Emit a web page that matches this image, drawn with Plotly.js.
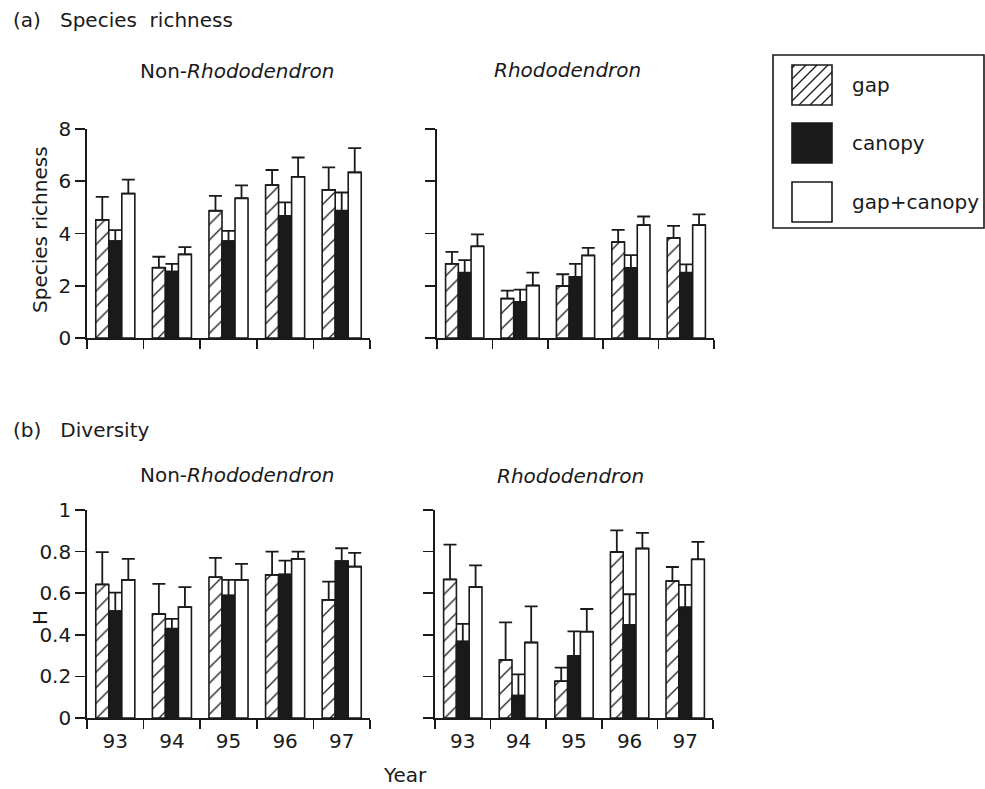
<!DOCTYPE html>
<html><head><meta charset="utf-8">
<script src="https://cdn.plot.ly/plotly-3.0.1.min.js"></script>
<style>html,body{margin:0;padding:0;background:#fff}#plot{width:985px;height:789px}</style>
</head><body><div id="plot"></div>
<script>
// ---------- data ----------
const years = ['93','94','95','96','97'];
const seriesNames = ['gap','canopy','gap+canopy'];

// (a) species richness, Non-Rhododendron
const richNonGap   = [4.52, 2.69, 4.87, 5.85, 5.67];
const richNonGapSE = [0.88, 0.42, 0.57, 0.58, 0.86];
const richNonCan   = [3.71, 2.54, 3.71, 4.67, 4.87];
const richNonCanSE = [0.42, 0.30, 0.39, 0.52, 0.70];
const richNonGC    = [5.53, 3.20, 5.35, 6.17, 6.34];
const richNonGCSE  = [0.53, 0.28, 0.49, 0.74, 0.93];
// (a) species richness, Rhododendron
const richRhoGap   = [2.84, 1.51, 1.99, 3.67, 3.83];
const richRhoGapSE = [0.46, 0.30, 0.45, 0.47, 0.46];
const richRhoCan   = [2.50, 1.38, 2.34, 2.68, 2.50];
const richRhoCanSE = [0.48, 0.47, 0.50, 0.49, 0.32];
const richRhoGC    = [3.51, 2.01, 3.16, 4.32, 4.32];
const richRhoGCSE  = [0.46, 0.49, 0.29, 0.33, 0.41];
// (b) diversity, Non-Rhododendron
const divNonGap   = [0.642, 0.500, 0.677, 0.688, 0.568];
const divNonGapSE = [0.155, 0.145, 0.093, 0.112, 0.088];
const divNonCan   = [0.514, 0.429, 0.589, 0.690, 0.754];
const divNonCanSE = [0.089, 0.048, 0.075, 0.067, 0.062];
const divNonGC    = [0.664, 0.533, 0.664, 0.765, 0.728];
const divNonGCSE  = [0.101, 0.096, 0.077, 0.035, 0.066];
// (b) diversity, Rhododendron
const divRhoGap   = [0.666, 0.279, 0.177, 0.798, 0.658];
const divRhoGapSE = [0.168, 0.181, 0.065, 0.104, 0.068];
const divRhoCan   = [0.368, 0.108, 0.298, 0.447, 0.532];
const divRhoCanSE = [0.085, 0.102, 0.118, 0.148, 0.108];
const divRhoGC    = [0.629, 0.363, 0.415, 0.815, 0.763];
const divRhoGCSE  = [0.105, 0.174, 0.109, 0.075, 0.084];

const richTicks = [0, 2, 4, 6, 8];
const divTicks = [0, 0.2, 0.4, 0.6, 0.8, 1];
const divTickText = ['0', '0.2', '0.4', '0.6', '0.8', '1'];

// ---------- helpers ----------
const W = 985, H = 789;
const px = x => x / W;
const py = y => 1 - y / H;
const FONT = 'DejaVu Sans, Verdana, sans-serif';
const INK = '#1a1a1a';

const styles = [
  {color: 'white', pattern: {shape: '/', fgcolor: INK, bgcolor: 'white', size: 11, solidity: 0.12}},
  {color: INK},
  {color: 'white'}
];

function bars(xa, ya, vals, ses) {
  return vals.map((v, i) => ({
    type: 'bar', x: years, y: v, name: seriesNames[i], xaxis: xa, yaxis: ya,
    showlegend: false,
    marker: Object.assign({line: {color: INK, width: 1.6}}, styles[i]),
    error_y: {type: 'data', symmetric: false, array: ses[i], arrayminus: ses[i].map(() => 0),
              color: INK, thickness: 1.8, width: 6.5}
  }));
}

const data = [].concat(
  bars('x', 'y', [richNonGap, richNonCan, richNonGC], [richNonGapSE, richNonCanSE, richNonGCSE]),
  bars('x2', 'y2', [richRhoGap, richRhoCan, richRhoGC], [richRhoGapSE, richRhoCanSE, richRhoGCSE]),
  bars('x3', 'y3', [divNonGap, divNonCan, divNonGC], [divNonGapSE, divNonCanSE, divNonGCSE]),
  bars('x4', 'y4', [divRhoGap, divRhoCan, divRhoGC], [divRhoGapSE, divRhoCanSE, divRhoGCSE])
);

function xax(x0, x1, anchor, labels) {
  return {domain: [px(x0), px(x1)], anchor: anchor, type: 'category',
    tickson: 'boundaries', ticks: 'outside', ticklen: 9, tickwidth: 1.6, tickcolor: INK,
    showline: true, linecolor: INK, linewidth: 1.8, showgrid: false, zeroline: false,
    showticklabels: labels, ticklabelstandoff: 4,
    tickfont: {family: FONT, size: 20, color: INK}, fixedrange: true};
}
function yax(y0, y1, anchor, range, tv, tt, labels) {
  return {domain: [py(y0), py(y1)], anchor: anchor, range: range,
    tickmode: 'array', tickvals: tv, ticktext: tt,
    ticks: 'outside', ticklen: 10, tickwidth: 1.6, tickcolor: INK,
    showline: true, linecolor: INK, linewidth: 1.8, showgrid: false, zeroline: false,
    showticklabels: labels, tickfont: {family: FONT, size: 20, color: INK}, fixedrange: true};
}

const richTT = richTicks.map(String);

const annFont = (s) => ({family: FONT, size: s, color: INK});
const annotations = [
  {text: '(a)   Species  richness', x: px(11), y: py(20), xanchor: 'left'},
  {text: 'Non-<i>Rhododendron</i>', x: px(237), y: py(71), xanchor: 'center'},
  {text: '<i>Rhododendron</i>', x: px(567), y: py(70), xanchor: 'center'},
  {text: '(b)   Diversity', x: px(11), y: py(430), xanchor: 'left'},
  {text: 'Non-<i>Rhododendron</i>', x: px(237), y: py(475), xanchor: 'center'},
  {text: '<i>Rhododendron</i>', x: px(570), y: py(476), xanchor: 'center'},
  {text: 'Year', x: px(405), y: py(775), xanchor: 'center'},
  {text: 'Species richness', x: px(40), y: py(230), xanchor: 'center', textangle: -90},
  {text: 'H', x: px(40), y: py(618), xanchor: 'center', textangle: -90}
].map(a => ({text: a.text, x: a.x, y: a.y, xref: 'paper', yref: 'paper', xanchor: a.xanchor,
  yanchor: 'middle', showarrow: false, textangle: a.textangle || 0, font: annFont(a.size || 20)}));

// ---------- legend (drawn) ----------
const shapes = [];
const lgBox = {x0: 773, y0: 55, x1: 984, y1: 228};
shapes.push({type: 'rect', xref: 'paper', yref: 'paper', x0: px(lgBox.x0), x1: px(lgBox.x1),
  y0: py(lgBox.y1), y1: py(lgBox.y0), line: {color: INK, width: 1.6}, fillcolor: 'white', layer: 'below'});
const sw = {x: 792, size: 40, ys: [65, 123, 182]};
seriesNames.forEach((nm, i) => {
  const y0 = sw.ys[i];
  shapes.push({type: 'rect', xref: 'paper', yref: 'paper', x0: px(sw.x), x1: px(sw.x + sw.size),
    y0: py(y0 + sw.size), y1: py(y0), line: {color: INK, width: 1.6},
    fillcolor: i === 1 ? INK : 'white'});
  if (i === 0) {
    const s = sw.size, step = 11;
    for (let d = step; d < 2 * s; d += step) {
      let ax = Math.max(0, d - s), ay = d - ax;
      let bx = Math.min(s, d), by = d - bx;
      shapes.push({type: 'line', xref: 'paper', yref: 'paper',
        x0: px(sw.x + (s - ay)), y0: py(y0 + s - ax),
        x1: px(sw.x + (s - by)), y1: py(y0 + s - bx),
        line: {color: INK, width: 1.2}});
    }
  }
  annotations.push({text: nm, xref: 'paper', yref: 'paper', x: px(850), y: py(y0 + sw.size / 2),
    xanchor: 'left', yanchor: 'middle', showarrow: false, font: annFont(20)});
});

const layout = {
  width: W, height: H, margin: {l: 0, r: 0, t: 0, b: 0, autoexpand: false},
  paper_bgcolor: 'white', plot_bgcolor: 'rgba(0,0,0,0)',
  barmode: 'group', bargap: 0.31, bargroupgap: 0,
  showlegend: false,
  xaxis:  xax(87, 370, 'y', false),
  yaxis:  yax(338, 129, 'x', [0, 8], richTicks, richTT, true),
  xaxis2: xax(437, 714, 'y2', false),
  yaxis2: yax(338, 129, 'x2', [0, 8], richTicks, richTT, false),
  xaxis3: xax(87, 370, 'y3', true),
  yaxis3: yax(718, 510, 'x3', [0, 1], divTicks, divTickText, true),
  xaxis4: xax(435, 713, 'y4', true),
  yaxis4: yax(718, 510, 'x4', [0, 1], divTicks, divTickText, false),
  annotations: annotations,
  shapes: shapes
};

Plotly.newPlot('plot', data, layout, {staticPlot: true, displayModeBar: false});
</script>
</body></html>
